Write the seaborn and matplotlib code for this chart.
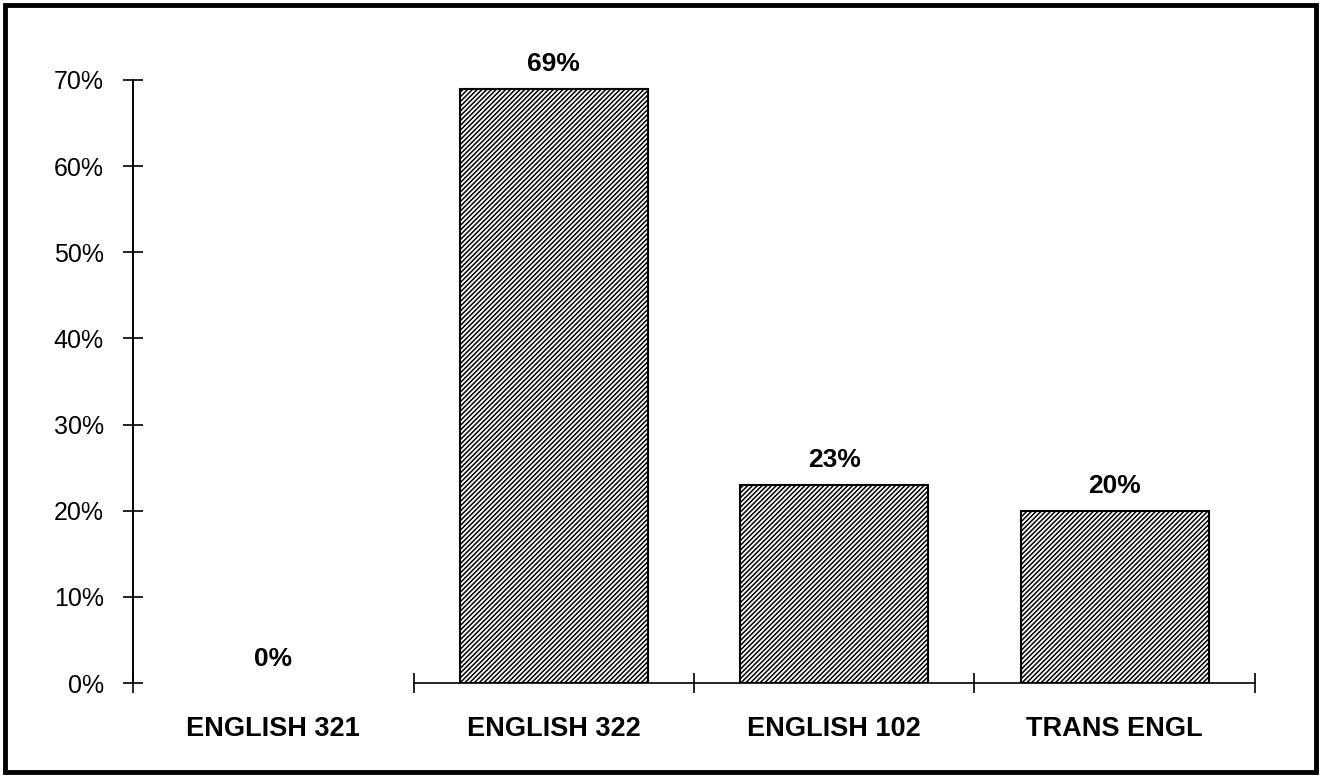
import matplotlib
matplotlib.use("Agg")
import matplotlib.pyplot as plt
import seaborn as sns
import pandas as pd
from matplotlib.patches import Rectangle
from matplotlib.ticker import FixedLocator

categories = ["ENGLISH 321", "ENGLISH 322", "ENGLISH 102", "TRANS ENGL"]
values = [0, 69, 23, 20]
y_ticks = [0, 10, 20, 30, 40, 50, 60, 70]

sns.set_theme(style="white")
plt.rcParams["font.family"] = ["Liberation Sans", "DejaVu Sans"]
plt.rcParams["hatch.linewidth"] = 1.1
plt.rcParams["hatch.color"] = "black"
plt.rcParams["text.color"] = "black"
plt.rcParams["xtick.color"] = "black"
plt.rcParams["ytick.color"] = "black"

df = pd.DataFrame({"course": categories, "pct": values})

fig = plt.figure(figsize=(13.21, 7.78), dpi=100)
ax = fig.add_axes([0.1007, 0.1221, 0.8493, 0.7751])

sns.barplot(data=df, x="course", y="pct", color="white", edgecolor="black",
            linewidth=1.5, width=0.67, hatch="/" * 7, saturation=1, ax=ax)

# a zero-height bar leaves no visible outline
for patch in ax.patches:
    if patch.get_height() == 0:
        patch.set_linewidth(0)
        patch.set_hatch(None)

ax.set_xlim(-0.5, len(categories) - 0.5)
ax.set_ylim(0, 70)
ax.set_yticks(y_ticks)
ax.set_yticklabels([f"{t}%" for t in y_ticks], fontsize=18)
ax.set_xlabel("")
ax.set_ylabel("")

# category labels centred, boundary ticks between categories
ax.tick_params(axis="x", which="major", length=0, pad=24, labelsize=19.5)
for lab in ax.get_xticklabels():
    lab.set_fontweight("bold")
ax.xaxis.set_minor_locator(FixedLocator([i - 0.5 for i in range(len(categories) + 1)]))
ax.tick_params(axis="x", which="minor", direction="inout", length=14, width=1.2,
               color="black", bottom=True)
ax.tick_params(axis="y", direction="inout", length=14, width=1.2, color="black",
               left=True, pad=14)

for side in ["top", "right"]:
    ax.spines[side].set_visible(False)
ax.spines["left"].set_color("black")
ax.spines["left"].set_linewidth(1.4)
ax.spines["bottom"].set_color("black")
ax.spines["bottom"].set_linewidth(1.2)
ax.spines["bottom"].set_bounds(0.5, len(categories) - 0.5)

for container in ax.containers:
    ax.bar_label(container, fmt="%d%%", padding=9, fontsize=19, fontweight="bold")

# outer frame around the whole figure
fig.patches.append(Rectangle((0.004, 0.008), 0.992, 0.985, transform=fig.transFigure,
                             fill=False, edgecolor="black", linewidth=3.5))

fig.savefig("out.png", dpi=100)
